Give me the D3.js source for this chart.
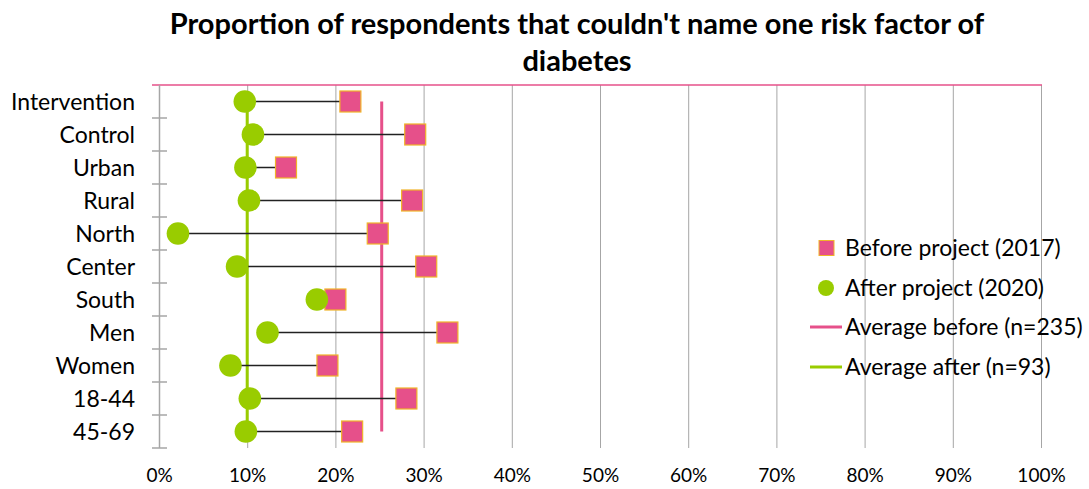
<!DOCTYPE html>
<html>
<head>
<meta charset="utf-8">
<script src="https://cdnjs.cloudflare.com/ajax/libs/d3/7.8.5/d3.min.js"></script>
<style>
	body { margin: 0; background: #fff; }
	svg { display: block; font-family: Lato, "Open Sans", sans-serif; }
</style>
</head>
<body>
<svg id="chart"></svg>
<script>

var categories	=	['Intervention', 'Control', 'Urban', 'Rural', 'North', 'Center', 'South', 'Men', 'Women', '18-44', '45-69'];
var before		=	[0.217, 0.2905, 0.144, 0.287, 0.248, 0.303, 0.200, 0.327, 0.191, 0.2805, 0.219];
var after		=	[0.0973, 0.1065, 0.098, 0.102, 0.0215, 0.0885, 0.179, 0.123, 0.081, 0.103, 0.0985];
var avgBefore	=	0.2525;
var avgAfter	=	0.100;
var xTicks		=	[0, 0.1, 0.2, 0.3, 0.4, 0.5, 0.6, 0.7, 0.8, 0.9, 1.0];
var legendItems	=	['Before project (2017)', 'After project (2020)', 'Average before (n=235)', 'Average after (n=93)'];

var width	=	1089;
var height	=	489;
var pink	=	'#e6508a';
var gold	=	'#f0b429';
var green	=	'#99cc00';

var svg = d3.select('#chart')
	.attr('width', width)
	.attr('height', height);

var x = d3.scaleLinear()
	.domain([0, 1])
	.range([159, 1041]);

var y = d3.scaleBand()
	.domain(categories)
	.range([85, 448]);

var half = y.bandwidth() / 2;

// title
svg.append('text')
	.attr('x', 577)
	.attr('y', 34)
	.attr('text-anchor', 'middle')
	.style('font-size', '29px')
	.style('font-weight', 'bold')
	.text("Proportion of respondents that couldn't name one risk factor of");

svg.append('text')
	.attr('x', 577)
	.attr('y', 71)
	.attr('text-anchor', 'middle')
	.style('font-size', '29px')
	.style('font-weight', 'bold')
	.text('diabetes');

// vertical grid
svg.append('g')
	.selectAll('line')
	.data(xTicks)
	.enter().append('line')
	.attr('x1', function(d) { return x(d) + 0.5; })
	.attr('x2', function(d) { return x(d) + 0.5; })
	.attr('y1', 85)
	.attr('y2', 448)
	.attr('stroke', '#a6a6a6')
	.attr('stroke-width', 1);

// top border (pink)
svg.append('line')
	.attr('x1', 152)
	.attr('x2', x(1) + 1)
	.attr('y1', 85)
	.attr('y2', 85)
	.attr('stroke', pink)
	.attr('stroke-width', 1.5);

// x axis labels
var xAxis = d3.axisBottom(x)
	.tickValues(xTicks)
	.tickSize(0)
	.tickPadding(0)
	.tickFormat(d3.format('.0%'));

var gx = svg.append('g')
	.attr('transform', 'translate(0,467)')
	.call(xAxis);

gx.select('.domain').remove();
gx.selectAll('text')
	.attr('dy', '0.78em')
	.style('font-family', 'Lato, sans-serif')
	.style('font-size', '19px')
	.attr('fill', '#000');

// y axis: line with crossing ticks between bands
svg.append('line')
	.attr('x1', 159.5)
	.attr('x2', 159.5)
	.attr('y1', 85)
	.attr('y2', 448)
	.attr('stroke', '#a6a6a6')
	.attr('stroke-width', 1.5);

var tickPos = categories.map(function(d) { return y(d) + y.bandwidth(); });

svg.append('g')
	.selectAll('line')
	.data(tickPos)
	.enter().append('line')
	.attr('x1', 152)
	.attr('x2', 167)
	.attr('y1', function(d) { return d; })
	.attr('y2', function(d) { return d; })
	.attr('stroke', '#a6a6a6')
	.attr('stroke-width', 1.5);

svg.append('g')
	.selectAll('text')
	.data(categories)
	.enter().append('text')
	.attr('x', 135)
	.attr('y', function(d) { return y(d) + half; })
	.attr('dy', '0.35em')
	.attr('text-anchor', 'end')
	.style('font-size', '23px')
	.text(function(d) { return d; });

// average lines
svg.append('line')
	.attr('x1', x(avgBefore))
	.attr('x2', x(avgBefore))
	.attr('y1', y(categories[0]) + half)
	.attr('y2', y(categories[categories.length - 1]) + half)
	.attr('stroke', pink)
	.attr('stroke-width', 3);

svg.append('line')
	.attr('x1', x(avgAfter))
	.attr('x2', x(avgAfter))
	.attr('y1', y(categories[0]) + half)
	.attr('y2', y(categories[categories.length - 1]) + half)
	.attr('stroke', green)
	.attr('stroke-width', 3);

// connectors
svg.append('g')
	.selectAll('line')
	.data(categories)
	.enter().append('line')
	.attr('x1', function(d, i) { return x(after[i]); })
	.attr('x2', function(d, i) { return x(before[i]); })
	.attr('y1', function(d) { return y(d) + half; })
	.attr('y2', function(d) { return y(d) + half; })
	.attr('stroke', '#222')
	.attr('stroke-width', 1.5);

// before squares
svg.append('g')
	.selectAll('rect')
	.data(categories)
	.enter().append('rect')
	.attr('x', function(d, i) { return x(before[i]) - 10.5; })
	.attr('y', function(d) { return y(d) + half - 10.5; })
	.attr('width', 21)
	.attr('height', 21)
	.attr('fill', pink)
	.attr('stroke', gold)
	.attr('stroke-width', 1.2);

// after circles
svg.append('g')
	.selectAll('circle')
	.data(categories)
	.enter().append('circle')
	.attr('cx', function(d, i) { return x(after[i]); })
	.attr('cy', function(d) { return y(d) + half; })
	.attr('r', 11.3)
	.attr('fill', green);

// legend
var legendY = [248, 288, 327, 367];
var legend = svg.append('g');

legend.append('rect')
	.attr('x', 819)
	.attr('y', legendY[0] - 7.5)
	.attr('width', 15)
	.attr('height', 15)
	.attr('fill', pink)
	.attr('stroke', gold)
	.attr('stroke-width', 1);

legend.append('circle')
	.attr('cx', 826)
	.attr('cy', legendY[1])
	.attr('r', 8)
	.attr('fill', green);

legend.append('line')
	.attr('x1', 810)
	.attr('x2', 842)
	.attr('y1', legendY[2])
	.attr('y2', legendY[2])
	.attr('stroke', pink)
	.attr('stroke-width', 3);

legend.append('line')
	.attr('x1', 810)
	.attr('x2', 842)
	.attr('y1', legendY[3])
	.attr('y2', legendY[3])
	.attr('stroke', green)
	.attr('stroke-width', 3);

legend.selectAll('text')
	.data(legendItems)
	.enter().append('text')
	.attr('x', 845)
	.attr('y', function(d, i) { return legendY[i]; })
	.attr('dy', '0.35em')
	.style('font-size', '23px')
	.text(function(d) { return d; });

</script>
</body>
</html>
